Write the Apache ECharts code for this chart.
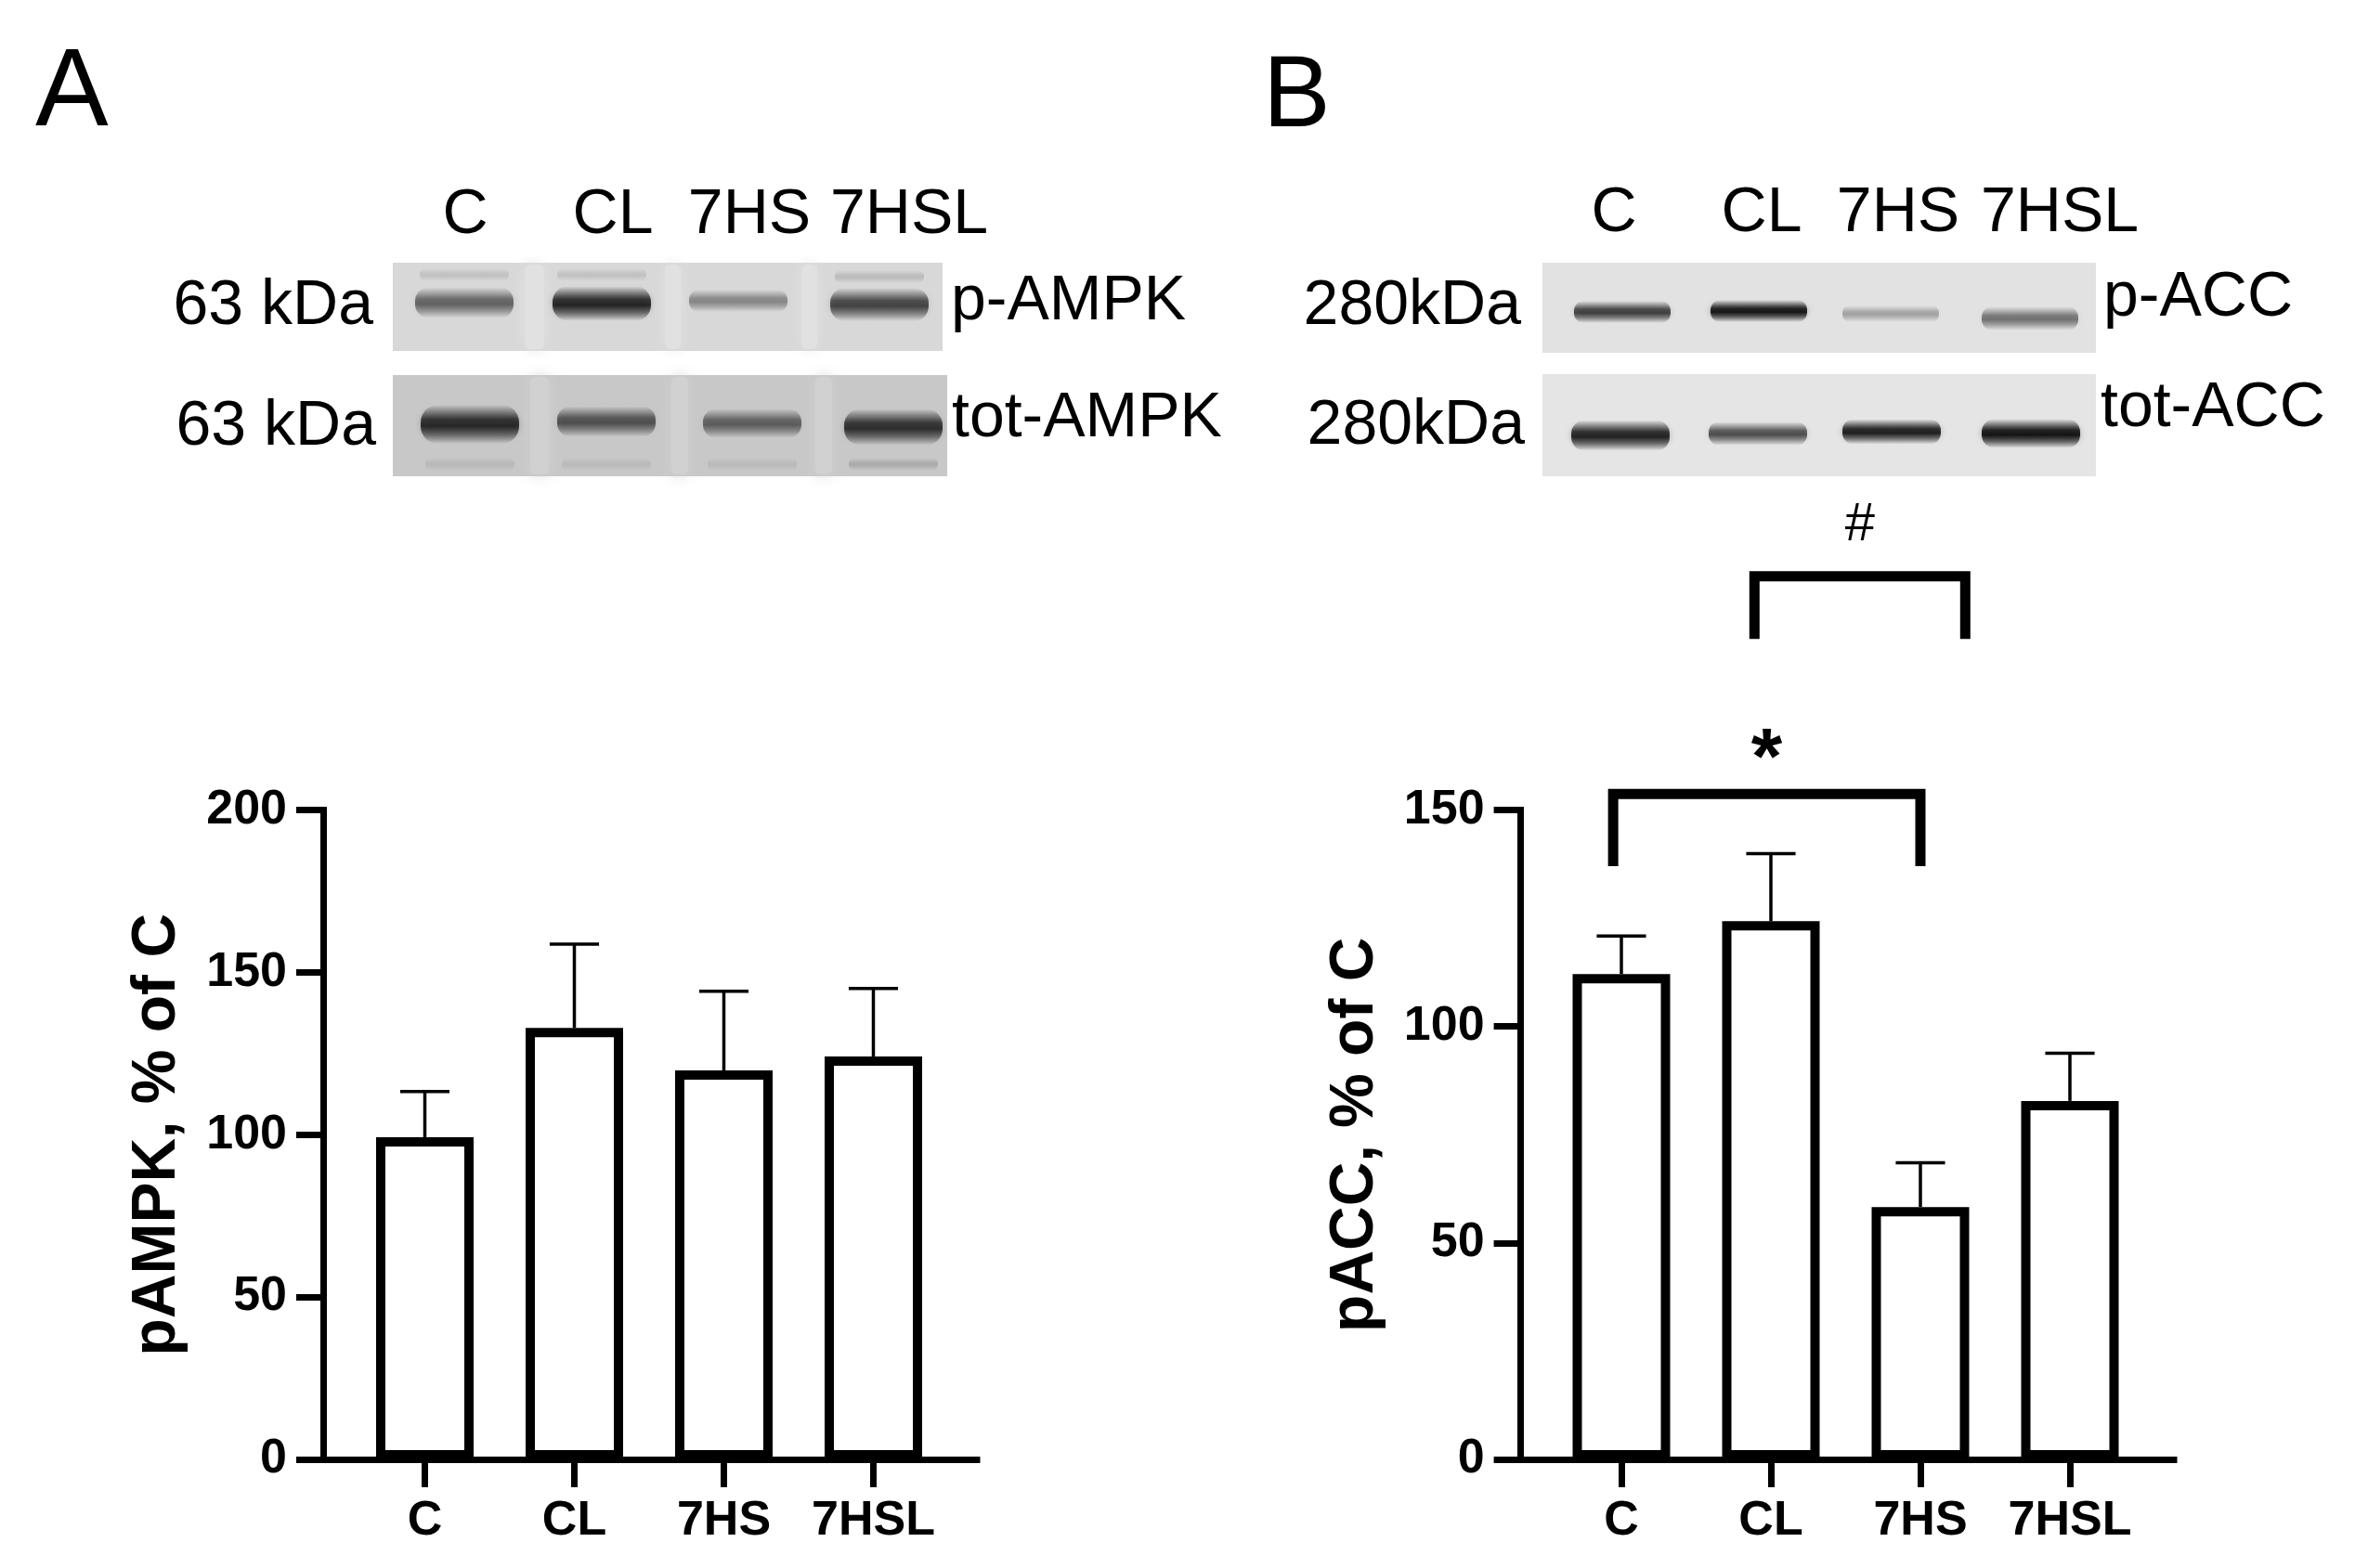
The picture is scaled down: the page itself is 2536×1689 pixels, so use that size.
<!DOCTYPE html>
<html><head><meta charset="utf-8">
<script src="https://cdn.jsdelivr.net/npm/echarts@6/dist/echarts.min.js"></script>
<style>html,body{margin:0;padding:0;background:#fff}#chart{width:2536px;height:1689px}</style>
</head><body><div id="chart"></div>
<script>
// ---------------- DATA ----------------
const categories = ['C', 'CL', '7HS', '7HSL'];
const pAMPK_mean = [99.2, 132.9, 119.8, 124.1];
const pAMPK_sem  = [14.1, 25.8, 24.4, 20.9];
const pACC_mean  = [112.1, 124.3, 58.3, 82.8];
const pACC_sem   = [8.8, 15.6, 10.2, 11.0];
const yTicksA = [0, 50, 100, 150, 200];
const yTicksB = [0, 50, 100, 150];
// significance annotations (panel B)
const sigFrom = ['C', 'CL'];
const sigTo   = ['7HS', '7HS'];
const sigTop  = [153.7, 204];
const sigLeg  = [137, 189.5];
const sigMark = ['*', '#'];
// western-blot band darkness (0 = background, 1 = black)
const band_pAMPK   = [0.6, 0.93, 0.42, 0.76];
const band_totAMPK = [0.97, 0.72, 0.64, 0.93];
const band_pACC    = [0.76, 0.98, 0.3, 0.52];
const band_totACC  = [0.9, 0.68, 0.92, 0.98];

// ---------------- LAYOUT / STYLE ----------------
const FONT = '"Liberation Sans", Arial, sans-serif';
const AXW = 7;
const sigStyle = [
  { shiftFrom: -0.055, shiftTo: 0, font: 'bold 86px ' + FONT, dy: -35 },
  { shiftFrom: -0.11, shiftTo: 0.30, font: '58px ' + FONT, dy: -55 }
];

const chart = echarts.init(document.getElementById('chart'), null, { renderer: 'canvas', width: 2536, height: 1689 });

function frameX(gi) {
  return { gridIndex: gi, type: 'value', min: 0, max: 1,
    axisLine: { show: true, onZero: false, lineStyle: { color: '#000', width: AXW, cap: 'square' } },
    axisTick: { show: false }, axisLabel: { show: false }, splitLine: { show: false } };
}
function catX(gi) {
  return { gridIndex: gi, type: 'category', data: categories,
    axisLine: { show: false, onZero: false },
    axisTick: { show: true, interval: 0, alignWithLabel: true, length: 30, lineStyle: { color: '#000', width: AXW } },
    axisLabel: { interval: 0, hideOverlap: false, color: '#000', fontSize: 52, fontWeight: 'bold', fontFamily: FONT, margin: 41 },
    splitLine: { show: false } };
}
function frameY(gi, ticks, name) {
  return { gridIndex: gi, type: 'value', min: ticks[0], max: ticks[ticks.length - 1], interval: ticks[1] - ticks[0],
    axisLine: { show: true, onZero: false, lineStyle: { color: '#000', width: AXW, cap: 'square' } },
    axisTick: { show: true, length: 29, lineStyle: { color: '#000', width: AXW } },
    axisLabel: { color: '#000', fontSize: 52, fontWeight: 'bold', fontFamily: FONT, margin: 39 },
    splitLine: { show: false },
    name: name, nameLocation: 'middle', nameGap: 145,
    nameTextStyle: { color: '#000', fontSize: 66, fontWeight: 'bold', fontFamily: FONT } };
}
function hiddenY(gi, ticks) {
  return { gridIndex: gi, type: 'value', min: ticks[0], max: ticks[ticks.length - 1], interval: ticks[1] - ticks[0], show: false };
}

function errItem(params, api) {
  const x = api.value(0), m = api.value(1), e = api.value(2);
  const p0 = api.coord([x, m]);
  const p1 = api.coord([x, m + e]);
  const half = api.size([1, 0])[0] * 0.165;
  const st = { stroke: '#000', lineWidth: 3.5 };
  return { type: 'group', children: [
    { type: 'line', shape: { x1: p0[0], y1: p0[1], x2: p1[0], y2: p1[1] }, style: st },
    { type: 'line', shape: { x1: p1[0] - half, y1: p1[1], x2: p1[0] + half, y2: p1[1] }, style: st }
  ] };
}

function bracketItem(params, api) {
  const i = params.dataIndex;
  const s = sigStyle[i];
  const band = api.size([1, 0])[0];
  const a = api.coord([api.value(0), api.value(1)]);
  const b = api.coord([api.value(2), api.value(1)]);
  const leg = api.coord([api.value(0), api.value(3)])[1];
  const x1 = a[0] + s.shiftFrom * band, x2 = b[0] + s.shiftTo * band, yt = a[1];
  return { type: 'group', children: [
    { type: 'polyline', shape: { points: [[x1, leg], [x1, yt], [x2, yt], [x2, leg]] },
      style: { stroke: '#000', lineWidth: 11, fill: null, lineJoin: 'miter' } },
    { type: 'text', x: (x1 + x2) / 2, y: yt + s.dy,
      style: { text: sigMark[i], font: s.font, fill: '#000', align: 'center', verticalAlign: 'middle' } }
  ] };
}

// ---------------- BLOT GRAPHICS ----------------
function grayOf(level) { const g = Math.max(0, Math.min(255, Math.round(level))); return 'rgb(' + g + ',' + g + ',' + g + ')'; }
function softBand(cx, cy, w, h, alpha) {
  const a = Math.max(0, Math.min(1, alpha));
  const c = k => 'rgba(0,0,0,' + (a * k).toFixed(3) + ')';
  return { type: 'rect', silent: true,
    shape: { x: cx - w / 2, y: cy - h / 2, width: w, height: h, r: h * 0.45 },
    style: { fill: { type: 'linear', x: 0, y: 0, x2: 0, y2: 1, colorStops: [
      { offset: 0, color: c(0) }, { offset: 0.2, color: c(0.45) }, { offset: 0.38, color: c(0.9) },
      { offset: 0.55, color: c(1) }, { offset: 0.75, color: c(0.6) }, { offset: 1, color: c(0) } ] },
      shadowBlur: 6, shadowColor: c(0.35) } };
}
function blot(b) {
  const els = [];
  els.push({ type: 'rect', shape: { x: b.x, y: b.y, width: b.w, height: b.h }, style: { fill: grayOf(b.bg) }, silent: true });
  (b.seps || []).forEach(s => els.push({ type: 'rect', shape: { x: s[0] + 6, y: b.y + 2, width: s[1] - s[0] - 12, height: b.h - 4, r: 6 },
    style: { fill: grayOf(b.bg + 9), shadowBlur: 14, shadowColor: grayOf(b.bg + 9) }, silent: true }));
  (b.faint || []).forEach(f => els.push(softBand(f[0], f[1], 96, 14, f[2])));
  b.cx.forEach((cx, i) => {
    const d = b.dark[i];
    els.push(softBand(cx, b.cy[i], b.bw, b.bh[i] * 1.5, d * (b.bg / 255)));
  });
  return { type: 'group', children: els, silent: true };
}

const blots = [
  { x: 423, y: 283, w: 592, h: 95, bg: 216, seps: [[559, 592], [710, 739], [857, 886]],
    faint: [[500, 296, 0.1], [648, 296, 0.1], [947, 298, 0.13]],
    cx: [500, 648, 795, 947], cy: [326, 327, 324, 328], bh: [22, 25, 16, 24], bw: 106, dark: band_pAMPK },
  { x: 423, y: 404, w: 597, h: 109, bg: 200, seps: [[565, 597], [717, 747], [872, 902]],
    faint: [[506, 500, 0.08], [653, 500, 0.07], [810, 500, 0.07], [962, 500, 0.14]],
    cx: [506, 653, 810, 962], cy: [457, 454, 456, 460], bh: [28, 22, 21, 26], bw: 106, dark: band_totAMPK },
  { x: 1661, y: 283, w: 596, h: 97, bg: 226,
    cx: [1747, 1894, 2036, 2186], cy: [336, 335, 338, 343], bh: [16, 16, 12, 17], bw: 104, dark: band_pACC },
  { x: 1661, y: 403, w: 596, h: 110, bg: 229,
    cx: [1745, 1893, 2037, 2187], cy: [469, 467, 465, 467], bh: [22, 17, 18, 21], bw: 106, dark: band_totACC }
];

function txt(text, x, y, size, align, weight) {
  return { type: 'text', x: x, y: y, silent: true,
    style: { text: text, font: (weight || 'normal') + ' ' + size + 'px ' + FONT, fill: '#000', align: align || 'left', verticalAlign: 'middle' } };
}

const laneXA = [501, 660, 807, 979];
const laneXB = [1738, 1897, 2044, 2218];
const graphics = blots.map(blot).concat([
  txt('A', 38, 102, 118, 'left'),
  txt('B', 1360, 106, 109, 'left'),
  txt('63 kDa', 402, 330, 68, 'right'),
  txt('63 kDa', 405, 460, 68, 'right'),
  txt('280kDa', 1638, 330, 68, 'right'),
  txt('280kDa', 1642, 459, 68, 'right'),
  txt('p-AMPK', 1024, 325, 68, 'left'),
  txt('tot-AMPK', 1025, 451, 68, 'left'),
  txt('p-ACC', 2265, 321, 68, 'left'),
  txt('tot-ACC', 2262, 440, 68, 'left')
]).concat(categories.map((c, i) => txt(c, laneXA[i], 232, 68, 'center')))
  .concat(categories.map((c, i) => txt(c, laneXB[i], 230, 68, 'center')));

const option = {
  animation: false,
  backgroundColor: '#fff',
  textStyle: { fontFamily: FONT },
  grid: [
    { left: 348, top: 872.5, width: 704, height: 699.5, containLabel: false, outerBoundsMode: 'none' },
    { left: 377, top: 872.5, width: 644, height: 699.5, containLabel: false, outerBoundsMode: 'none' },
    { left: 1637.6, top: 872.5, width: 703.4, height: 699.5, containLabel: false, outerBoundsMode: 'none' },
    { left: 1665.5, top: 872.5, width: 644, height: 699.5, containLabel: false, outerBoundsMode: 'none' }
  ],
  xAxis: [frameX(0), catX(1), frameX(2), catX(3)],
  yAxis: [frameY(0, yTicksA, 'pAMPK, % of C'), hiddenY(1, yTicksA), frameY(2, yTicksB, 'pACC, % of C'), hiddenY(3, yTicksB)],
  graphic: graphics,
  series: [
    { type: 'bar', xAxisIndex: 1, yAxisIndex: 1, data: pAMPK_mean, barWidth: 105, silent: true, z: 3,
      itemStyle: { color: '#fff', borderColor: '#000', borderWidth: 10 } },
    { type: 'custom', xAxisIndex: 1, yAxisIndex: 1, clip: false, silent: true, z: 4,
      data: pAMPK_mean.map((m, i) => [i, m, pAMPK_sem[i]]), renderItem: errItem },
    { type: 'bar', xAxisIndex: 3, yAxisIndex: 3, data: pACC_mean, barWidth: 105, silent: true, z: 3,
      itemStyle: { color: '#fff', borderColor: '#000', borderWidth: 10 } },
    { type: 'custom', xAxisIndex: 3, yAxisIndex: 3, clip: false, silent: true, z: 4,
      data: pACC_mean.map((m, i) => [i, m, pACC_sem[i]]), renderItem: errItem },
    { type: 'custom', xAxisIndex: 3, yAxisIndex: 3, clip: false, silent: true, z: 4,
      encode: { x: [0, 2], y: [1, 3] },
      data: sigFrom.map((f, i) => [categories.indexOf(f), sigTop[i], categories.indexOf(sigTo[i]), sigLeg[i]]),
      renderItem: bracketItem }
  ]
};
chart.setOption(option);
</script>
</body></html>
